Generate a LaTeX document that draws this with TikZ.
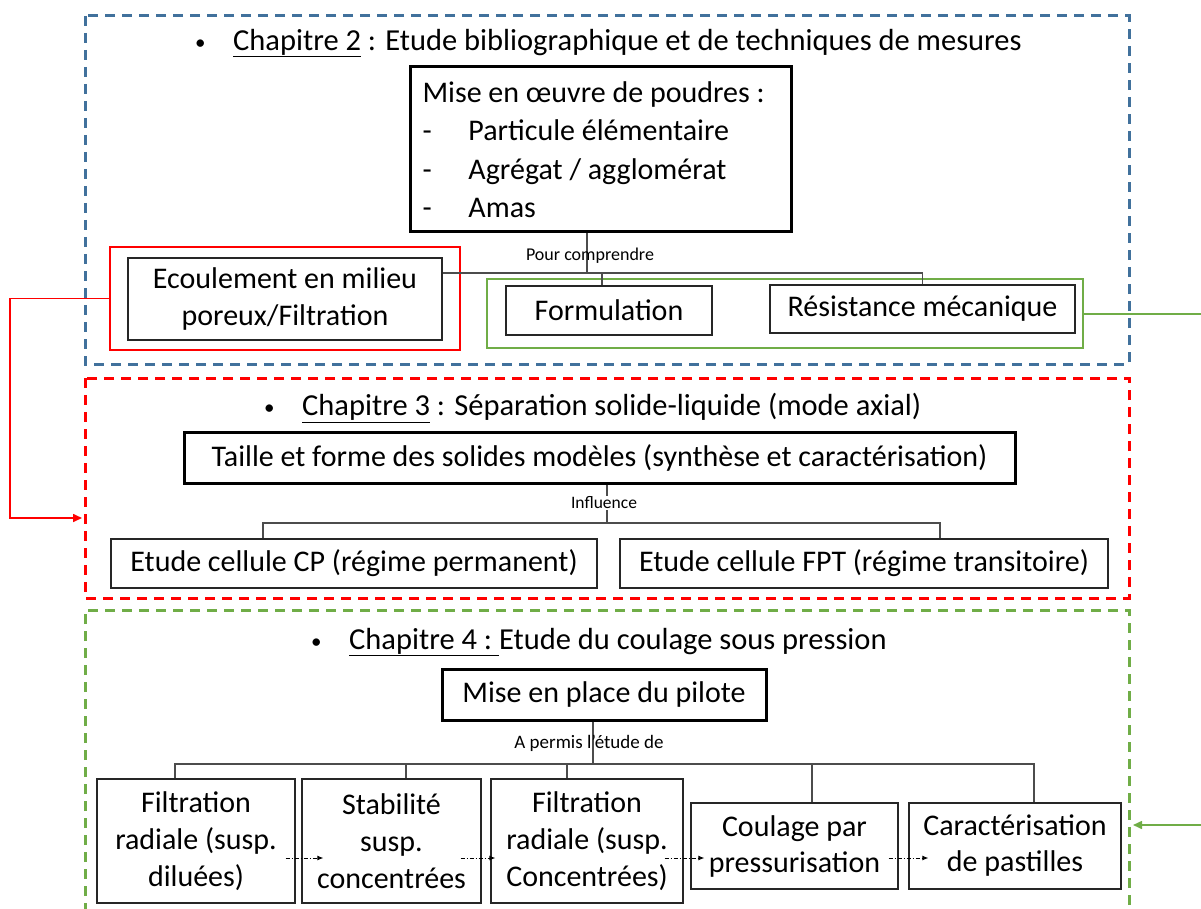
\documentclass[tikz,border=0pt]{standalone}
\usepackage{fontspec}
\setmainfont{Carlito}
\usetikzlibrary{arrows.meta}
\definecolor{cblue}{RGB}{65,113,156}
\definecolor{cgreen}{RGB}{112,173,71}
\definecolor{cred}{RGB}{255,0,0}
\newcommand{\mybul}{\makebox[38pt][l]{\raisebox{1pt}{\fontsize{21}{21}\selectfont •}}}
\begin{document}
\begin{tikzpicture}[x=1pt,y=-1pt,
  box/.style={draw=black!85, line width=1.3pt, inner sep=0pt, align=center,
    font=\fontsize{30}{37}\selectfont},
  thickbox/.style={box, line width=3pt, draw=black},
  title/.style={anchor=west, inner sep=0pt, font=\fontsize{30.5}{34}\selectfont},
  lab/.style={inner sep=1pt},
  conn/.style={draw=black!70, line width=1.1pt},
  dashbox/.style={line width=3pt, dash pattern=on 10pt off 7pt},
  flow/.style={draw=black, line width=0.9pt, dash pattern=on 4pt off 2pt on 1pt off 2pt,
    -{Latex[length=6pt,width=5pt]}},
  bigarr/.style={line width=1.6pt, -{Triangle[length=9pt,width=8pt]}}
]
\useasboundingbox (0,0) rectangle (1201,909);

% ---------- dashed chapter frames ----------
\draw[dashbox, cblue] (85,16) rectangle (1129,364);
\draw[dashbox, cred] (85,378) rectangle (1129,598);
\draw[dashbox, cgreen] (85,930) -- (85,610) -- (1129,610) -- (1129,930);

% ---------- Chapitre 2 ----------
\node[title] (t2) at (195,43) {\mybul\underline{Chapitre 2} : Etude bibliographique et de techniques de mesures};
\node[thickbox, minimum width=380, minimum height=165, text width=357, align=flush left,
  inner xsep=12pt, font=\fontsize{30}{38.5}\selectfont] (mise) at (601,149.5)
  {Mise en œuvre de poudres :\\
   \makebox[46pt][l]{-}Particule élémentaire\\
   \makebox[46pt][l]{-}Agrégat / agglomérat\\
   \makebox[46pt][l]{-}Amas};
\node[draw=cred, line width=2pt, minimum width=350, minimum height=103, inner sep=0pt] (redbox) at (285,298.5) {};
\node[box, minimum width=314, minimum height=82] (ecoul) at (285,299) {Ecoulement en milieu\\poreux/Filtration};
\node[draw=cgreen, line width=2pt, minimum width=596, minimum height=69, inner sep=0pt] (greenbox) at (785,313.5) {};
\node[box, minimum width=206, minimum height=49] (form) at (609,310.5) {Formulation};
\node[box, minimum width=305, minimum height=48] (res) at (922.5,309) {Résistance mécanique};

\coordinate (j1) at (587,273);
\coordinate (j2) at (602,273);
\draw[conn] (mise.south -| j1) -- (j1);
\draw[conn] (ecoul.east |- j1) -- (res.north |- j1) -- (res.north);
\draw[conn] (j2) -- (j2 |- form.north);
\node[lab, font=\fontsize{18}{20}\selectfont] (pc) at (590,256) {Pour comprendre};

% ---------- Chapitre 3 ----------
\node[title] (t3) at (264,408) {\mybul\underline{Chapitre 3} : Séparation solide-liquide (mode axial)};
\node[thickbox, minimum width=831, minimum height=51] (taille) at (599.5,457.5) {Taille et forme des solides modèles (synthèse et caractérisation)};
\node[box, minimum width=486, minimum height=49] (cp) at (354,563.5) {Etude cellule CP (régime permanent)};
\node[box, minimum width=488, minimum height=49] (fpt) at (864,563.5) {Etude cellule FPT (régime transitoire)};
\coordinate (k1) at (607,523);
\coordinate (k2) at (263,523);
\coordinate (k3) at (940,523);
\draw[conn] (taille.south -| k1) -- (k1);
\draw[conn] (k2 |- cp.north) -- (k2) -- (k3) -- (k3 |- fpt.north);
\node[lab, fill=white, font=\fontsize{17.5}{20}\selectfont] (infl) at (604,503) {Influence};

% ---------- Chapitre 4 ----------
\node[title] (t4) at (311,642) {\mybul\underline{Chapitre 4 :\ }Etude du coulage sous pression};
\node[thickbox, minimum width=324, minimum height=51] (mep) at (604,694.5) {Mise en place du pilote};
\node[box, minimum width=198, minimum height=124] (b1) at (196,841) {Filtration\\radiale (susp.\\diluées)};
\node[box, minimum width=179, minimum height=124] (b2) at (391.5,841) {Stabilité\\susp.\\concentrées};
\node[box, minimum width=192, minimum height=124] (b3) at (587,841) {Filtration\\radiale (susp.\\Concentrées)};
\node[box, minimum width=207, minimum height=86, font=\fontsize{30}{36}\selectfont] (b4) at (794.5,846) {Coulage par\\pressurisation};
\node[box, minimum width=212, minimum height=86, font=\fontsize{30}{36}\selectfont] (b5) at (1015,846) {Caractérisation\\de pastilles};

\coordinate (m0) at (593,764);
\coordinate (m1) at (175,764);
\coordinate (m2) at (406,764);
\coordinate (m3) at (567,764);
\coordinate (m4) at (812,764);
\coordinate (m5) at (1034,764);
\draw[conn] (mep.south -| m0) -- (m0);
\draw[conn] (m1 |- b1.north) -- (m1) -- (m5) -- (m5 |- b5.north);
\draw[conn] (m2) -- (m2 |- b2.north);
\draw[conn] (m3) -- (m3 |- b3.north);
\draw[conn] (m4) -- (m4 |- b4.north);
\node[lab, font=\fontsize{19}{22}\selectfont] (ap) at (589,743) {A permis l’étude de};

\draw[flow] ([shift={(-10,17)}]b1.east) -- ([shift={(22,17)}]b2.west);
\draw[flow] ([shift={(-21,17)}]b2.east) -- ([shift={(5,17)}]b3.west);
\draw[flow] ([shift={(-19,17)}]b3.east) -- ([shift={(14,12)}]b4.west);
\draw[flow] ([shift={(-10,12)}]b4.east) -- ([shift={(20,12)}]b5.west);

% ---------- cross-chapter arrows ----------
\coordinate (c3in) at (82,518);
\draw[bigarr, cred] (redbox.west) -- (10,298.5) |- (c3in);
\coordinate (gout) at (1201,314);
\draw[line width=2pt, cgreen] (greenbox.east |- gout) -- (gout);
\coordinate (gin) at (1201,825);
\coordinate (c4in) at (1133,825);
\draw[bigarr, cgreen] (gin) -- (c4in);
\end{tikzpicture}
\end{document}
